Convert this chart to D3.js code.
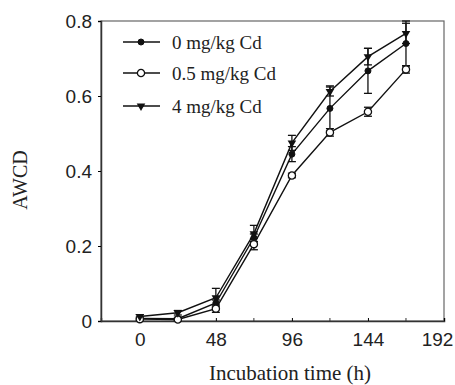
<!DOCTYPE html>
<html>
<head>
<meta charset="utf-8">
<script src="https://cdn.jsdelivr.net/npm/d3@7"></script>
<style>
body { margin: 0; background: #fff; }
svg { display: block; }
</style>
</head>
<body>
<div id="chart"></div>
<script>
var hours = [0, 24, 48, 72, 96, 120, 144, 168];
var seriesNames = ["0 mg/kg Cd", "0.5 mg/kg Cd", "4 mg/kg Cd"];
var cd0 = [0.007, 0.006, 0.048, 0.222, 0.445, 0.567, 0.667, 0.740];
var cd0Err = [0.004, 0.004, 0.008, 0.010, 0.020, 0.060, 0.060, 0.060];
var cd05 = [0.005, 0.004, 0.033, 0.205, 0.388, 0.503, 0.558, 0.671];
var cd05Err = [0.003, 0.003, 0.010, 0.015, 0.006, 0.010, 0.012, 0.010];
var cd4 = [0.012, 0.022, 0.062, 0.233, 0.475, 0.612, 0.705, 0.767];
var cd4Err = [0.005, 0.006, 0.025, 0.022, 0.020, 0.012, 0.022, 0.027];
var xTicks = [0, 48, 96, 144, 192];
var xMinorTicks = [24, 72, 120, 168];
var yTicks = [0, 0.2, 0.4, 0.6, 0.8];

var width = 455, height = 385;
var margin = { top: 21, right: 11, bottom: 64, left: 101 };
var w = width - margin.left - margin.right;
var h = height - margin.top - margin.bottom;

var svg = d3.select("#chart").append("svg")
    .attr("width", width)
    .attr("height", height)
    .style("font-family", "'Liberation Serif', 'Times New Roman', serif");

var g = svg.append("g").attr("transform", "translate(" + margin.left + "," + margin.top + ")");

var x = d3.scaleLinear().domain([-24.5, 192]).range([0, w]);
var y = d3.scaleLinear().domain([0, 0.8]).range([h, 0]);

// frame
g.append("rect")
    .attr("width", w).attr("height", h)
    .attr("fill", "none").attr("stroke", "#666").attr("stroke-width", 1.2);

var yAxis = g.append("g")
    .call(d3.axisLeft(y).tickValues(yTicks).tickSize(3).tickPadding(6)
        .tickFormat(function (d) { return d === 0 ? "0" : d3.format(".1f")(d); }));
yAxis.select(".domain").attr("stroke", "#333").attr("stroke-width", 1.5);
yAxis.selectAll("text").attr("font-size", 19).attr("fill", "#222");

var xAxis = g.append("g")
    .attr("transform", "translate(0," + h + ")")
    .call(d3.axisBottom(x).tickValues(xTicks).tickSize(-3).tickPadding(12));
xAxis.select(".domain").attr("stroke", "#333").attr("stroke-width", 1.5);
// last label pulled in so it stays inside the window
xAxis.selectAll("text").attr("font-size", 19).attr("fill", "#222")
    .attr("dx", function (d) { return d === 192 ? -7 : 0; });

g.append("g").selectAll("line")
    .data(xMinorTicks)
    .enter().append("line")
    .attr("x1", function (d) { return x(d); })
    .attr("x2", function (d) { return x(d); })
    .attr("y1", h).attr("y2", h - 3)
    .attr("stroke", "#333");

svg.append("text")
    .attr("x", 290).attr("y", 380)
    .attr("text-anchor", "middle")
    .attr("font-size", 21).attr("fill", "#222")
    .text("Incubation time (h)");

svg.append("text")
    .attr("transform", "translate(27,180) rotate(-90)")
    .attr("text-anchor", "middle")
    .attr("font-size", 20).attr("fill", "#222")
    .text("AWCD");

var series = [
    { name: seriesNames[0], values: cd0, err: cd0Err, marker: "filled" },
    { name: seriesNames[1], values: cd05, err: cd05Err, marker: "open" },
    { name: seriesNames[2], values: cd4, err: cd4Err, marker: "triangle" }
];

var line = d3.line()
    .x(function (d) { return x(d[0]); })
    .y(function (d) { return y(d[1]); });

function drawMarker(sel, type) {
    if (type === "filled") {
        sel.append("circle").attr("r", 3).attr("fill", "#111").attr("stroke", "#111");
    } else if (type === "open") {
        sel.append("circle").attr("r", 3.6).attr("fill", "#fff").attr("stroke", "#111").attr("stroke-width", 1.3);
    } else {
        sel.append("path")
            .attr("d", d3.symbol().type(d3.symbolTriangle).size(32))
            .attr("transform", "rotate(180)")
            .attr("fill", "#111");
    }
}

series.forEach(function (s) {
    var pts = hours.map(function (hr, i) { return [hr, s.values[i], s.err[i]]; });

    g.append("path")
        .datum(pts)
        .attr("fill", "none")
        .attr("stroke", "#111")
        .attr("stroke-width", 1.4)
        .attr("d", line);

    var eb = g.append("g").selectAll("g")
        .data(pts).enter().append("g");
    eb.append("line")
        .attr("x1", function (d) { return x(d[0]); })
        .attr("x2", function (d) { return x(d[0]); })
        .attr("y1", function (d) { return y(d[1] - d[2]); })
        .attr("y2", function (d) { return y(d[1] + d[2]); })
        .attr("stroke", "#111").attr("stroke-width", 1.3);
    [-1, 1].forEach(function (sgn) {
        eb.append("line")
            .attr("x1", function (d) { return x(d[0]) - 4; })
            .attr("x2", function (d) { return x(d[0]) + 4; })
            .attr("y1", function (d) { return y(d[1] + sgn * d[2]); })
            .attr("y2", function (d) { return y(d[1] + sgn * d[2]); })
            .attr("stroke", "#111").attr("stroke-width", 1.3);
    });
});

series.forEach(function (s) {
    var m = g.append("g").selectAll("g")
        .data(hours.map(function (hr, i) { return [hr, s.values[i]]; }))
        .enter().append("g")
        .attr("transform", function (d) { return "translate(" + x(d[0]) + "," + y(d[1]) + ")"; });
    drawMarker(m, s.marker);
});

// legend
var legendY = [42, 73, 106];
var legend = svg.append("g").selectAll("g")
    .data(series).enter().append("g")
    .attr("transform", function (d, i) { return "translate(0," + legendY[i] + ")"; });
legend.append("line")
    .attr("x1", 123).attr("x2", 160)
    .attr("stroke", "#111").attr("stroke-width", 1.4);
legend.each(function (d) {
    var m = d3.select(this).append("g").attr("transform", "translate(141,0)");
    drawMarker(m, d.marker);
});
legend.append("text")
    .attr("x", 172).attr("dy", "0.35em")
    .attr("font-size", 19).attr("fill", "#222")
    .text(function (d) { return d.name; });
</script>
</body>
</html>
